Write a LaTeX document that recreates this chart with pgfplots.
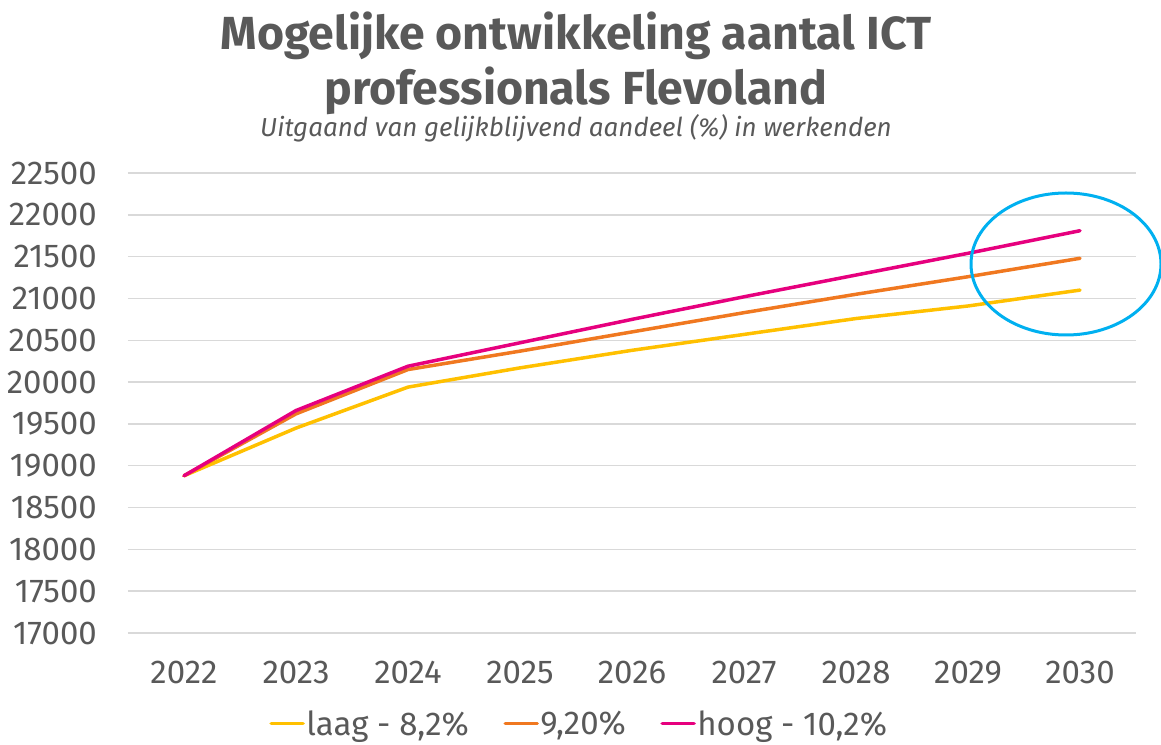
\documentclass[border=0pt]{standalone}
\usepackage{fontspec}
\setmainfont{Fira Sans}
\usepackage{pgfplots}
\pgfplotsset{compat=1.18}
\definecolor{txt}{HTML}{595959}
\definecolor{gridc}{HTML}{D9D9D9}
\definecolor{laag}{HTML}{FFC000}
\definecolor{mid}{HTML}{F07820}
\definecolor{hoog}{HTML}{E6007E}
\definecolor{ring}{HTML}{00B0F0}
\begin{document}
\begin{tikzpicture}
\begin{axis}[name=ax, at={(0pt,0pt)}, anchor=south west,
  scale only axis, width=1008pt, height=460pt,
  xmin=2021.5, xmax=2030.5, ymin=17000, ymax=22500,
  scaled y ticks=false, scaled x ticks=false,
  xtick={2022,2023,2024,2025,2026,2027,2028,2029,2030},
  xticklabels={2022,2023,2024,2025,2026,2027,2028,2029,2030},
  ytick={17000,17500,18000,18500,19000,19500,20000,20500,21000,21500,22000,22500},
  yticklabels={17000,17500,18000,18500,19000,19500,20000,20500,21000,21500,22000,22500},
  axis line style={draw=none}, major tick length=0pt,
  ymajorgrids, grid style={gridc, line width=1.5pt},
  tick label style={font=\fontsize{33}{39}\selectfont, text=txt, inner sep=0pt},
  yticklabel style={anchor=east, xshift=-31pt},
  xticklabel style={anchor=north, yshift=-28pt},
  clip=false,
  legend image code/.code={\draw[#1] (0pt,0pt) -- (32pt,0pt);},
  legend style={draw=none, fill=none, at={(0.4474,-0.197)}, anchor=center,
    legend columns=-1, font=\fontsize{33}{39}\selectfont, text=txt,
    inner sep=0pt, nodes={inner sep=1.5pt},
    /tikz/every even column/.append style={column sep=33pt}},
]
\addplot[laag, line width=3.5pt, line join=round, line cap=round] coordinates {
(2022,18880) (2023,19450) (2024,19940) (2025,20170) (2026,20380) (2027,20570) (2028,20760) (2029,20910) (2030,21100)};
\addlegendentry{laag - 8,2\%}
\addplot[mid, line width=3.5pt, line join=round, line cap=round] coordinates {
(2022,18880) (2023,19620) (2024,20150) (2025,20370) (2026,20600) (2027,20830) (2028,21050) (2029,21260) (2030,21480)};
\addlegendentry{9,20\%}
\addplot[hoog, line width=3.5pt, line join=round, line cap=round] coordinates {
(2022,18880) (2023,19660) (2024,20190) (2025,20470) (2026,20750) (2027,21020) (2028,21280) (2029,21540) (2030,21810)};
\addlegendentry{hoog - 10,2\%}
\end{axis}
\draw[ring, line width=3pt] (938pt,369pt) ellipse [x radius=95pt, y radius=71pt];
\node[font=\bfseries\fontsize{46.4}{55}\selectfont, text=txt, anchor=base, inner sep=0pt] at (448pt,583pt) {Mogelijke ontwikkeling aantal ICT};
\node[font=\bfseries\fontsize{46.4}{55}\selectfont, text=txt, anchor=base, inner sep=0pt] at (448pt,528pt) {professionals Flevoland};
\node[font=\itshape\fontsize{26}{31}\selectfont, text=txt, anchor=base, inner sep=0pt] at (448pt,496pt) {Uitgaand van gelijkblijvend aandeel (\%) in werkenden};
\pgfresetboundingbox
\path (-128pt,-111pt) rectangle (1033pt,633pt);
\end{tikzpicture}
\end{document}
